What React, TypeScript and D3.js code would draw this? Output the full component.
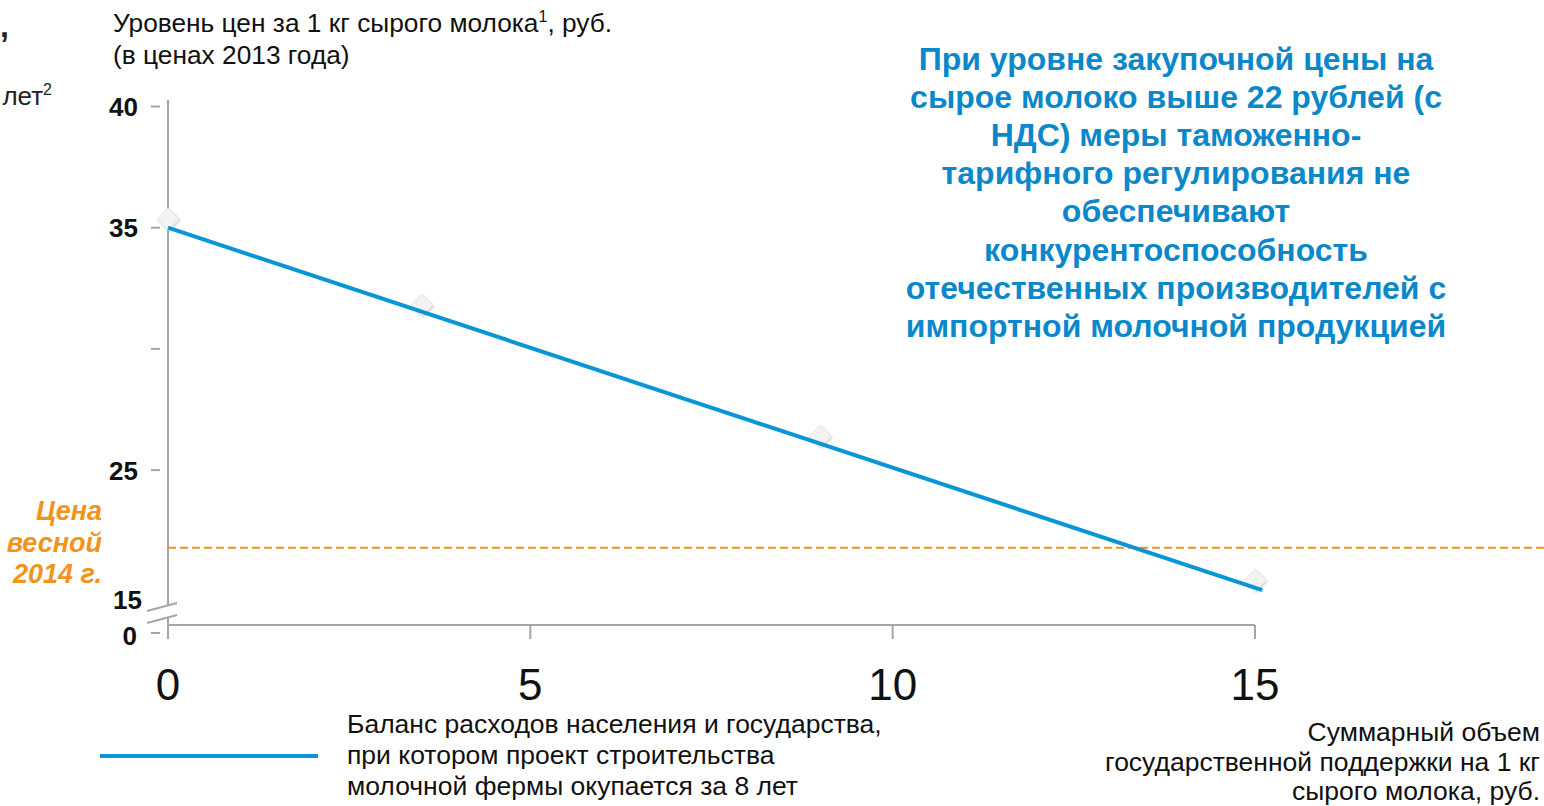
import React from "react";
import * as d3 from "d3";

// ---- data ----
const trendX = [0, 15.1];
const trendY = [35.0, 20.05];
const pointX = [0, 3.5, 9, 15];
const pointY = [35.35, 31.8, 26.4, 20.45];
const springPrice = 21.8;
const yTicks = [40, 35, 30, 25];
const yTickLabels = ["40", "35", "", "25"];
const xTicks = [0, 5, 10, 15];
const xTickLabels = ["0", "5", "10", "15"];
const breakLabels = ["15", "0"];
const titleLines = [
  "При уровне закупочной цены на",
  "сырое молоко выше 22 рублей (с",
  "НДС) меры таможенно-",
  "тарифного регулирования не",
  "обеспечивают",
  "конкурентоспособность",
  "отечественных производителей с",
  "импортной молочной продукцией",
];
const priceLabelLines = ["Цена", "весной", "2014 г."];
const legendLines = [
  "Баланс расходов населения и государства,",
  "при котором проект строительства",
  "молочной фермы окупается за 8 лет",
];
const xTitleLines = [
  "Суммарный объем",
  "государственной поддержки на 1 кг",
  "сырого молока, руб.",
];

const FONT = '"Liberation Sans", Arimo, Arial, Helvetica, sans-serif';
const BLUE = "#0A96D6";
const ORANGE = "#F2941B";
const AXIS = "#A6A6A6";

export default function App() {
  const W = 1544;
  const H = 806;
  const x = d3.scaleLinear().domain([0, 15]).range([168, 1255]);
  const y = d3.scaleLinear().domain([40, 25]).range([106.5, 470.1]);
  const axisY = 625; // x-axis line (below the break)
  const zeroY = 633; // y position of the "0" tick
  const line = d3
    .line<number>()
    .x((_, i) => x(trendX[i]))
    .y((d) => y(d));
  const x0 = x(0);

  const diamond = (cx: number, cy: number) => {
    const r = 11;
    return `M${cx},${cy - r} L${cx + r},${cy} L${cx},${cy + r} L${cx - r},${cy} Z`;
  };

  return (
    <svg
      width={W}
      height={H}
      style={{ position: "absolute", left: 0, top: 0, background: "#fff", fontFamily: FONT }}
    >
      <defs>
        <filter id="sh" x="-50%" y="-50%" width="200%" height="200%">
          <feGaussianBlur in="SourceAlpha" stdDeviation="1.3" />
          <feOffset dx="0.5" dy="1" result="b" />
          <feComponentTransfer>
            <feFuncA type="linear" slope="0.22" />
          </feComponentTransfer>
          <feMerge>
            <feMergeNode />
            <feMergeNode in="SourceGraphic" />
          </feMerge>
        </filter>
      </defs>

      {/* clipped text fragments at left */}
      <text x={0} y={37} fontSize={32} fontWeight="bold" fill="#222">,</text>
      <text x={52} y={105} fontSize={26} fill="#222" textAnchor="end">
        лет<tspan fontSize={16} dy={-10}>2</tspan>
      </text>

      {/* y axis title */}
      <text x={113} y={32} fontSize={26.3} fill="#111">
        Уровень цен за 1 кг сырого молока
        <tspan fontSize={16} dy={-10}>1</tspan>
        <tspan dy={10}>, руб.</tspan>
      </text>
      <text x={113} y={64} fontSize={26.3} fill="#111">(в ценах 2013 года)</text>

      {/* y axis */}
      <line x1={x0} x2={x0} y1={100} y2={605} stroke={AXIS} strokeWidth={2} />
      <line x1={x0} x2={x0} y1={617} y2={639} stroke={AXIS} strokeWidth={2} />
      {yTicks.map((t, i) => (
        <g key={t}>
          <line x1={151} x2={160} y1={y(t)} y2={y(t)} stroke={AXIS} strokeWidth={2} />
          {yTickLabels[i] && (
            <text x={138} y={y(t) + 9.5} fontSize={26} fontWeight="bold" textAnchor="end" fill="#111">
              {yTickLabels[i]}
            </text>
          )}
        </g>
      ))}
      {/* axis break */}
      <line x1={147} y1={611} x2={177} y2={603} stroke={AXIS} strokeWidth={2} />
      <line x1={147} y1={623} x2={177} y2={615} stroke={AXIS} strokeWidth={2} />
      <text x={142} y={609} fontSize={26} fontWeight="bold" textAnchor="end" fill="#111">
        {breakLabels[0]}
      </text>
      <line x1={151} x2={160} y1={zeroY} y2={zeroY} stroke={AXIS} strokeWidth={2} />
      <text x={137} y={645} fontSize={26} fontWeight="bold" textAnchor="end" fill="#111">
        {breakLabels[1]}
      </text>

      {/* x axis */}
      <line x1={x0} x2={x(15)} y1={axisY} y2={axisY} stroke={AXIS} strokeWidth={2} />
      {xTicks.map((t, i) => (
        <g key={t}>
          <line x1={x(t)} x2={x(t)} y1={axisY} y2={639} stroke={AXIS} strokeWidth={2} />
          <text x={x(t)} y={700} fontSize={44} textAnchor="middle" fill="#111">
            {xTickLabels[i]}
          </text>
        </g>
      ))}

      {/* spring 2014 price */}
      <line
        x1={x0}
        x2={W}
        y1={y(springPrice)}
        y2={y(springPrice)}
        stroke={ORANGE}
        strokeWidth={2}
        strokeDasharray="8,4"
      />
      {priceLabelLines.map((s, i) => (
        <text
          key={i}
          x={102}
          y={520 + i * 31.5}
          fontSize={27}
          fontWeight="bold"
          fontStyle="italic"
          textAnchor="end"
          fill={ORANGE}
        >
          {s}
        </text>
      ))}

      {/* markers */}
      {pointX.map((px, i) => (
        <path
          key={i}
          d={diamond(x(px), y(pointY[i]))}
          fill="#F3F3F3"
          stroke="#E6E6E6"
          strokeWidth={1}
          strokeLinejoin="round"
          filter="url(#sh)"
        />
      ))}

      {/* trend line */}
      <path d={line(trendY) || ""} fill="none" stroke={BLUE} strokeWidth={4} />

      {/* title annotation */}
      {titleLines.map((s, i) => (
        <text
          key={i}
          x={1176}
          y={70 + i * 38.1}
          fontSize={32}
          fontWeight="bold"
          textAnchor="middle"
          fill="#0B88CA"
        >
          {s}
        </text>
      ))}

      {/* legend */}
      <line x1={100} x2={318} y1={756} y2={756} stroke={BLUE} strokeWidth={4} />
      {legendLines.map((s, i) => (
        <text key={i} x={347} y={733 + i * 31} fontSize={26.5} fill="#111">
          {s}
        </text>
      ))}

      {/* x axis title */}
      {xTitleLines.map((s, i) => (
        <text key={i} x={1540} y={741 + i * 29.5} fontSize={26.5} textAnchor="end" fill="#111">
          {s}
        </text>
      ))}
    </svg>
  );
}
